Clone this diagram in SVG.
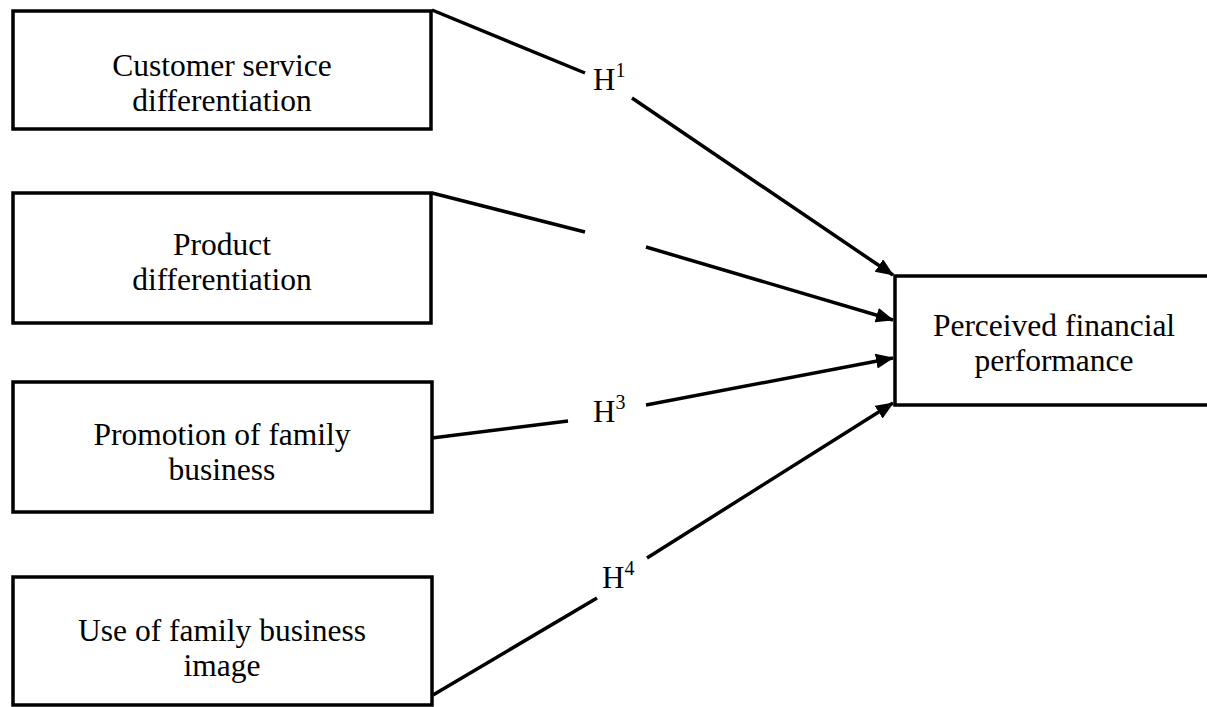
<svg xmlns="http://www.w3.org/2000/svg" width="1207" height="707" viewBox="0 0 1207 707">
<style>
.box{fill:#fff;stroke:#000;stroke-width:3.5}
.lbl{font-family:"Liberation Serif","Times New Roman",serif;font-size:31.5px;fill:#000;text-anchor:middle}
.h{font-family:"Liberation Serif","Times New Roman",serif;font-size:31px;fill:#000}
.sup{font-size:20px}
.ln{stroke:#000;stroke-width:3.5;fill:none}
</style>
<defs>
<marker id="arr" markerUnits="userSpaceOnUse" markerWidth="20" markerHeight="16" refX="17" refY="7.5" orient="auto">
<path d="M0,0 L18,7.5 L0,15 Z" fill="#000"/>
</marker>
</defs>
<rect width="1207" height="707" fill="#fff"/>
<g id="connectors">
<line class="ln" x1="432" y1="10" x2="585" y2="73"/>
<line class="ln" x1="632" y1="98" x2="893" y2="275" marker-end="url(#arr)"/>
<line class="ln" x1="432" y1="193" x2="585" y2="232"/>
<line class="ln" x1="646" y1="247" x2="893" y2="320" marker-end="url(#arr)"/>
<line class="ln" x1="432" y1="438" x2="568" y2="421"/>
<line class="ln" x1="646" y1="405" x2="893" y2="358" marker-end="url(#arr)"/>
<line class="ln" x1="433" y1="695" x2="597" y2="598"/>
<line class="ln" x1="647" y1="558" x2="893" y2="403" marker-end="url(#arr)"/>
<text class="h" x="593" y="90">H<tspan class="sup" dy="-13">1</tspan></text>
<text class="h" x="593" y="422">H<tspan class="sup" dy="-13">3</tspan></text>
<text class="h" x="602" y="588">H<tspan class="sup" dy="-13">4</tspan></text>
</g>
<g id="n1">
<rect class="box" x="13" y="11" width="418" height="118"/>
<text class="lbl" x="222" y="76">Customer service</text>
<text class="lbl" x="222" y="111">differentiation</text>
</g>
<g id="n2">
<rect class="box" x="13" y="193" width="418" height="130"/>
<text class="lbl" x="222" y="255">Product</text>
<text class="lbl" x="222" y="290">differentiation</text>
</g>
<g id="n3">
<rect class="box" x="13" y="382" width="419" height="130"/>
<text class="lbl" x="222" y="445">Promotion of family</text>
<text class="lbl" x="222" y="480">business</text>
</g>
<g id="n4">
<rect class="box" x="13" y="577" width="419" height="128"/>
<text class="lbl" x="222" y="641">Use of family business</text>
<text class="lbl" x="222" y="676">image</text>
</g>
<g id="n5">
<rect class="box" x="895" y="276" width="330" height="129"/>
<text class="lbl" x="1054" y="336">Perceived financial</text>
<text class="lbl" x="1054" y="371">performance</text>
</g>
</svg>
